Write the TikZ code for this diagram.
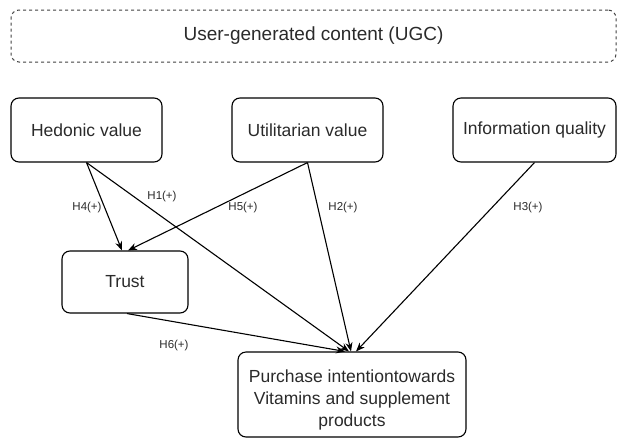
\documentclass[tikz,border=0pt]{standalone}
\usepackage{fontspec}
\setmainfont{Liberation Sans}
\usetikzlibrary{arrows.meta,calc}
\definecolor{txt}{HTML}{2A2A2A}
\tikzset{
  box/.style={draw=black, line width=1.1pt, rounded corners=8pt, align=center,
    inner sep=0pt, text=txt, font=\fontsize{17.5}{21.5}\selectfont},
  hyp/.style={text=txt, font=\fontsize{11.5}{13}\selectfont, inner sep=0pt},
  conn/.style={draw=black, line width=1.1pt, -{Stealth[length=9pt,width=7pt]}}
}
\begin{document}
\begin{tikzpicture}[x=1pt,y=-1pt]
\useasboundingbox (0,0) rectangle (617,439);
\node[box, draw=black!75, dashed, line width=1pt, minimum width=605pt, minimum height=52pt,
  font=\fontsize{19}{22}\selectfont] (ugc) at (313.5,36) {User-generated content (UGC)};
\node[box, minimum width=151pt, minimum height=64pt] (hed) at (86.5,130) {Hedonic value};
\node[box, minimum width=151pt, minimum height=64pt] (uti) at (307.5,130) {Utilitarian value};
\node[box, minimum width=163pt, minimum height=64pt] (inf) at (534.5,130) {Information quality};
\node[box, minimum width=126pt, minimum height=62pt] (trust) at (125,282) {Trust};
\node[box, minimum width=228pt, minimum height=85pt, font=\fontsize{17.5}{22}\selectfont] (pur) at (352,394.5)
  {\raisebox{0pt}[\dimexpr\height+12pt][\depth]{\begin{tabular}{@{}c@{}}Purchase intentiontowards\\Vitamins and supplement\\products\end{tabular}}};
\draw[conn] (hed.south) -- ($(trust.north)+(-3,0)$);
\draw[conn] (uti.south) -- ($(trust.north)+(3,0)$);
\draw[conn] (hed.south) -- ($(pur.north)+(-3,0)$);
\draw[conn] (uti.south) -- ($(pur.north)+(-1,0)$);
\draw[conn] (inf.south) -- ($(pur.north)+(4,0)$);
\draw[conn] ($(trust.south)+(2,0)$) -- ($(pur.north)+(-7,0)$);
\node[hyp] (l4) at (87,208) {H4(+)};
\node[hyp] (l1) at (162,197) {H1(+)};
\node[hyp] (l5) at (243,208) {H5(+)};
\node[hyp] (l2) at (343,208) {H2(+)};
\node[hyp] (l3) at (528,208) {H3(+)};
\node[hyp] (l6) at (174,346) {H6(+)};
\end{tikzpicture}
\end{document}
